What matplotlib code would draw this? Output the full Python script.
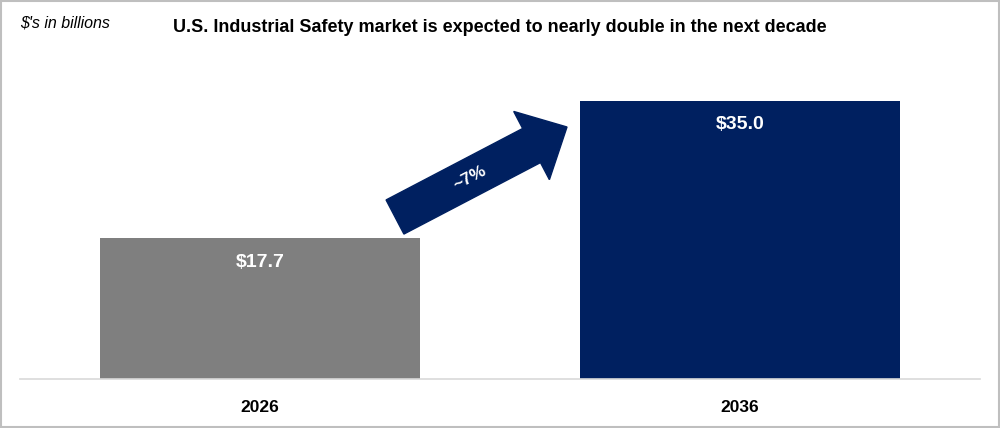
import matplotlib
matplotlib.use("Agg")
import matplotlib.pyplot as plt
from matplotlib.patches import FancyArrow, Rectangle

years = ["2026", "2036"]
values = [17.7, 35.0]
value_labels = ["$17.7", "$35.0"]
colors = ["#7f7f7f", "#002060"]
cagr_label = "~7%"
title = "U.S. Industrial Safety market is expected to nearly double in the next decade"
unit_note = "$'s in billions"

plt.rcParams['font.family'] = ['Liberation Sans', 'DejaVu Sans']

W, H = 1000, 428
fig = plt.figure(figsize=(W / 100, H / 100), dpi=100)
ax = fig.add_axes([20 / W, (H - 379) / H, 960 / W, 319 / H])

x = list(range(len(years)))
bars = ax.bar(x, values, width=320 / 480, color=colors, zorder=2)
ax.set_xlim(-0.5, 1.5)
ax.set_ylim(0, 35.0 * 319 / 278)

for s in ["top", "right", "left"]:
    ax.spines[s].set_visible(False)
ax.spines["bottom"].set_color("#d9d9d9")
ax.spines["bottom"].set_linewidth(1.2)
ax.set_yticks([])
ax.set_xticks(x)
ax.set_xticklabels(years, fontsize=12.5, fontweight="bold", color="#000000")
ax.tick_params(axis="x", length=0, pad=15)

for b, lab in zip(bars, value_labels):
    ax.annotate(lab, (b.get_x() + b.get_width() / 2, b.get_height()),
                xytext=(0, -17), textcoords="offset points",
                ha="center", va="center", color="white",
                fontsize=14, fontweight="bold")

# CAGR arrow (in inches on the figure)
arr = FancyArrow(3.95, 2.11, 1.72, 0.90, width=0.385, head_width=0.77,
                 head_length=0.40, length_includes_head=True,
                 color="#002060", transform=fig.dpi_scale_trans, zorder=5)
fig.add_artist(arr)
fig.text(4.70 / 10, (428 - 178) / 428, cagr_label, rotation=27.6,
         rotation_mode="anchor", ha="center", va="center",
         color="white", fontsize=12.5, fontweight="semibold", zorder=6)

fig.text(0.5, (428 - 27) / 428, title, ha="center", va="center",
         fontsize=13, fontweight="bold", color="#000000")
fig.text(20 / W, (428 - 23) / 428, unit_note, ha="left", va="center",
         fontsize=11.5, fontstyle="italic", color="#000000")

fig.add_artist(Rectangle((0.001, 0.002), 0.998, 0.996, transform=fig.transFigure,
                         fill=False, edgecolor="#bfbfbf", linewidth=1.5))

fig.savefig("out.png", dpi=100)
